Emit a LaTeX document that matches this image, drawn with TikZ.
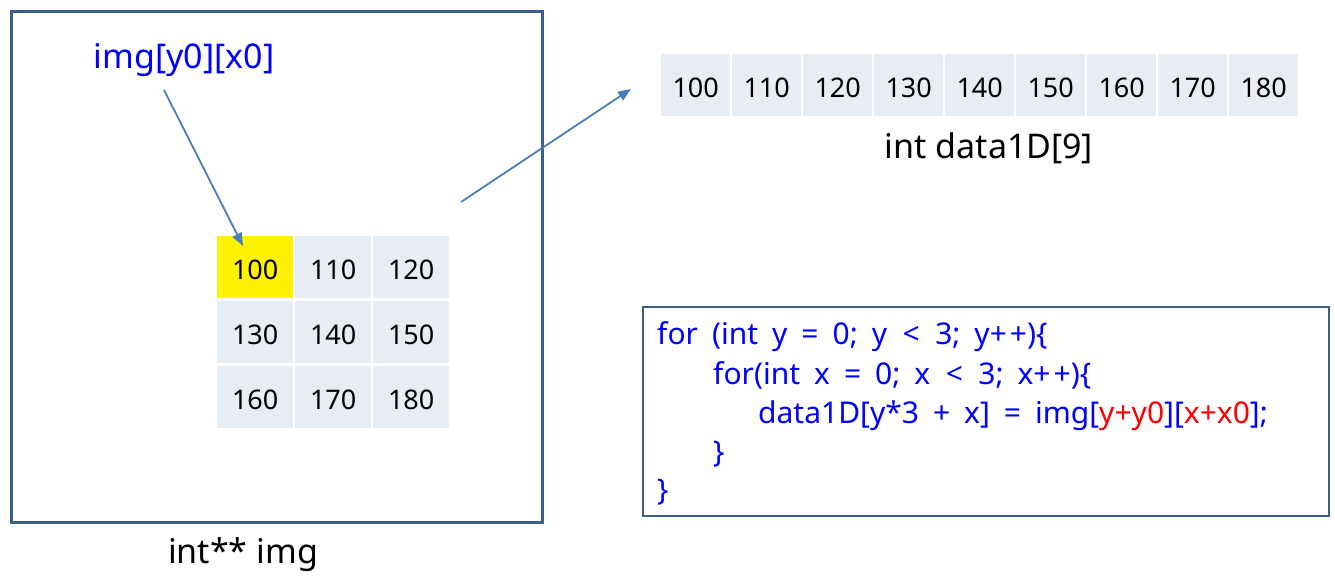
\documentclass[tikz,border=0pt]{standalone}
\usepackage{fontspec}
\setmainfont{Noto Sans}
\usetikzlibrary{arrows.meta}
\definecolor{frame}{HTML}{3C5E8C}
\definecolor{arr}{HTML}{4A7EBB}
\definecolor{cellbg}{HTML}{E8ECF3}
\definecolor{codeblue}{HTML}{0000FF}
\definecolor{codered}{HTML}{FF0000}
\newcommand{\myplusplus}{+\kern3pt+}
\newcommand{\myless}{\kern1.5pt<\kern1.5pt}
\newcommand{\mycodefont}{\fontsize{30}{36}\selectfont\spaceskip=14pt\relax}
\tikzset{
  cell/.style={fill=cellbg, minimum width=#1, minimum height=62pt, inner sep=0pt, anchor=north west,
    text height=24pt, text depth=0pt, font=\fontsize{27}{30}\selectfont},
  cell/.default=76pt,
  lbl/.style={font=\fontsize{34}{39}\selectfont, inner sep=0pt},
  codeline/.style={font=\mycodefont, text=codeblue, inner sep=0pt, anchor=base west},
  link/.style={draw=arr, line width=1.8pt, -{Triangle[length=13pt,width=10pt]}},
}
\begin{document}
\begin{tikzpicture}[x=1pt,y=-1pt]
\useasboundingbox (0,0) rectangle (1335,588);
% big frame
\node[draw=frame, line width=3pt, minimum width=531pt, minimum height=511pt, inner sep=0pt, anchor=north west] (frame) at (10,10) {};
\node[lbl, text=codeblue] (ilbl) at (184,60) {img[y0][x0]};
\node[lbl] (imgname) at (243,555) {int** img};
% 2D grid
\node[cell, fill=yellow] (c00) at (217,236) {100};
\node[cell] (c01) at (295,236) {110};
\node[cell] (c02) at (373,236) {120};
\node[cell] (c10) at (217,301) {130};
\node[cell] (c11) at (295,301) {140};
\node[cell] (c12) at (373,301) {150};
\node[cell] (c20) at (217,366) {160};
\node[cell] (c21) at (295,366) {170};
\node[cell] (c22) at (373,366) {180};
% 1D array
\foreach \v [count=\i from 0] in {100,110,120,130,140,150,160,170,180} {
  \node[cell=69pt] (d\i) at ({661+\i*71},54) {\v};
}
\node[lbl] (dname) at (989,148) {int data1D[9]};
% arrows
\coordinate (a1s) at (164,90);
\coordinate (a1e) at (243,246);
\draw[link] (a1s) -- (a1e);
\coordinate (a2s) at (461,202);
\coordinate (a2e) at (631,89);
\draw[link] (a2s) -- (a2e);
% code box
\node[draw=frame, line width=2pt, minimum width=686pt, minimum height=209pt, inner sep=0pt, anchor=north west] (codebox) at (642,306) {};
\node[codeline] (l1) at (657,344) {for (int y = 0; y \myless{} 3; y\myplusplus)\{};
\node[codeline] (l2) at (713,384) {for(int x = 0; x \myless{} 3; x\myplusplus)\{};
\node[codeline] (l3) at (758,423) {data1D[y*3 + x] = img[\textcolor{codered}{y+y0}][\textcolor{codered}{x+x0}];};
\node[codeline] (l4) at (713,462) {\}};
\node[codeline] (l5) at (657,500) {\}};
\end{tikzpicture}
\end{document}
